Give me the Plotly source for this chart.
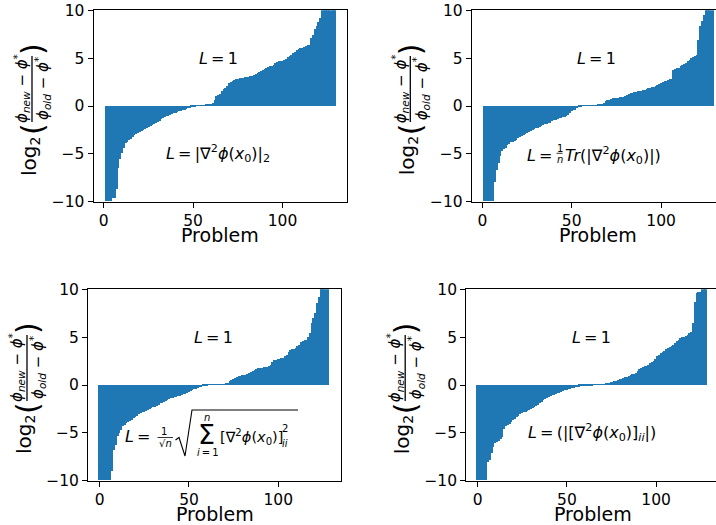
import plotly.graph_objects as go

W, H = 716, 525
BLUE = "#1f77b4"
FONT = "DejaVu Sans"

# ---------------- data (sorted log2 ratios per problem) ----------------
problems_top = list(range(1, 130))
problems_bottom = list(range(0, 129))

vals_norm2 = [
    -10.0, -10.0, -10.0, -10.0, -9.6, -9.6, -8.7, -6.5, -5.6, -4.9,
    -4.4, -3.9, -3.75, -3.55, -3.45, -3.3, -3.1, -3.0, -2.9, -2.75,
    -2.6, -2.5, -2.4, -2.33, -2.25, -2.16, -2.0, -1.88, -1.8, -1.7,
    -1.6, -1.4, -1.25, -1.15, -1.1, -1.05, -0.95, -0.87, -0.8, -0.72,
    -0.66, -0.6, -0.52, -0.47, -0.4, -0.33, -0.28, -0.22, -0.15, -0.1,
    -0.05, 0.03, 0.04, 0.05, 0.06, 0.07, 0.08, 0.09, 0.1, 0.12,
    0.3, 0.63, 0.98, 1.1, 1.22, 1.5, 1.7, 1.85, 2.09, 2.37,
    2.5, 2.61, 2.7, 2.75, 2.79, 2.85, 2.89, 2.92, 2.96, 3.0,
    3.05, 3.1, 3.14, 3.25, 3.34, 3.45, 3.52, 3.65, 3.76, 3.85,
    3.94, 4.0, 4.11, 4.2, 4.29, 4.45, 4.55, 4.63, 4.68, 4.72,
    4.74, 4.9, 5.05, 5.15, 5.3, 5.5, 5.65, 5.8, 5.92, 6.0,
    6.08, 6.13, 6.2, 6.3, 6.38, 7.07, 7.4, 8.0, 8.3, 8.7,
    9.16, 10.2, 10.5, 10.8, 11.2, 11.6, 12.1, 12.8, 13.5]

vals_trace = [
    -10.0, -10.0, -10.0, -10.0, -10.0, -10.0, -8.0, -6.76, -6.0, -5.3,
    -4.77, -4.5, -4.4, -4.1, -4.05, -3.8, -3.75, -3.73, -3.6, -3.4,
    -3.28, -3.15, -3.05, -2.95, -2.85, -2.75, -2.6, -2.52, -2.45, -2.35,
    -2.28, -2.2, -2.1, -2.0, -1.95, -1.88, -1.83, -1.8, -1.65, -1.5,
    -1.45, -1.4, -1.33, -1.29, -1.22, -1.15, -1.11, -0.95, -0.77, -0.6,
    -0.48, -0.4, -0.25, -0.12, -0.06, -0.02, 0.01, 0.02, 0.02, 0.03,
    0.03, 0.04, 0.05, 0.06, 0.08, 0.12, 0.17, 0.3, 0.45, 0.55,
    0.63, 0.7, 0.77, 0.8, 0.82, 0.84, 0.86, 0.87, 0.95, 1.05,
    1.15, 1.25, 1.3, 1.37, 1.4, 1.45, 1.5, 1.53, 1.58, 1.63,
    1.68, 1.75, 1.82, 1.87, 1.92, 1.97, 2.02, 2.12, 2.25, 2.37,
    2.45, 2.55, 2.61, 2.68, 2.75, 2.79, 3.76, 3.85, 3.9, 3.94,
    4.1, 4.29, 4.4, 4.5, 4.63, 4.8, 4.95, 5.09, 5.2, 5.33,
    6.9, 8.3, 8.9, 9.5, 10.3, 10.7, 11.2, 11.8, 12.5]

vals_rms_diag = [
    -10.0, -10.0, -10.0, -10.0, -10.0, -10.0, -10.0, -9.06, -6.8, -6.3,
    -5.4, -5.0, -4.7, -4.36, -4.2, -4.0, -3.9, -3.75, -3.66, -3.5,
    -3.35, -3.25, -3.1, -2.96, -2.9, -2.8, -2.7, -2.61, -2.5, -2.42,
    -2.37, -2.3, -2.22, -2.1, -1.95, -1.9, -1.8, -1.74, -1.6, -1.48,
    -1.39, -1.35, -1.32, -1.29, -1.2, -1.13, -1.08, -1.0, -0.94, -0.85,
    -0.77, -0.7, -0.6, -0.5, -0.45, -0.35, -0.28, -0.24, -0.18, -0.12,
    -0.08, -0.03, 0.01, 0.01, 0.02, 0.02, 0.03, 0.03, 0.04, 0.05,
    0.06, 0.08, 0.15, 0.35, 0.5, 0.59, 0.7, 0.8, 0.88, 0.94,
    0.97, 1.0, 1.05, 1.12, 1.2, 1.29, 1.45, 1.57, 1.63, 1.74,
    1.76, 1.78, 1.8, 1.81, 1.9, 2.0, 2.09, 2.35, 2.61, 2.63,
    2.66, 2.68, 2.75, 2.79, 2.95, 3.14, 3.4, 3.66, 3.72, 3.78,
    3.83, 4.0, 4.2, 4.43, 4.55, 4.65, 4.7, 5.0, 5.4, 6.45,
    7.0, 7.5, 8.5, 9.2, 10.2, 10.6, 11.0, 11.6, 12.3]

vals_abs_diag = [
    -10.0, -10.0, -10.0, -10.0, -10.0, -10.0, -8.1, -7.84, -7.1, -6.5,
    -6.1, -6.0, -5.92, -5.7, -5.5, -4.6, -4.36, -4.2, -4.08, -3.9,
    -3.73, -3.6, -3.4, -3.24, -3.1, -2.96, -2.88, -2.8, -2.7, -2.61,
    -2.52, -2.45, -2.35, -2.26, -2.1, -1.95, -1.8, -1.65, -1.5, -1.35,
    -1.25, -1.18, -1.1, -1.03, -0.96, -0.9, -0.82, -0.72, -0.63, -0.58,
    -0.52, -0.46, -0.4, -0.36, -0.32, -0.28, -0.24, -0.2, -0.17, -0.15,
    -0.12, -0.1, -0.08, -0.06, -0.04, -0.02, -0.01, 0.01, 0.02, 0.03,
    0.04, 0.06, 0.08, 0.12, 0.18, 0.24, 0.3, 0.38, 0.42, 0.5,
    0.57, 0.62, 0.7, 0.78, 0.85, 0.95, 1.05, 1.1, 1.15, 1.22,
    1.4, 1.6, 1.7, 1.8, 1.92, 2.0, 2.1, 2.25, 2.33, 2.5,
    2.7, 2.95, 3.14, 3.3, 3.45, 3.55, 3.7, 3.83, 3.95, 4.05,
    4.18, 4.35, 4.53, 4.7, 4.88, 4.95, 5.0, 5.05, 5.2, 5.4,
    5.5, 6.45, 8.6, 9.58, 9.65, 9.7, 10.2, 10.5, 11.0]

x_ticks = [0, 50, 100]
y_ticks = [-10, -5, 0, 5, 10]
label_one = "<i>L</i>\u2009=\u20091"
x_title = "Problem"

# ---------------- layout helpers ----------------
def px(x):
    return x / W

def py(y):
    return 1 - y / H

panels = [
    ("x", "y", problems_top, vals_norm2, (93.5, 346.8), (10.3, 201.7), [-5.7, 136.0], True),
    ("x2", "y2", problems_top, vals_trace, (471.8, 716), (10.3, 201.7), [-5.9, 130.7], False),
    ("x3", "y3", problems_bottom, vals_rms_diag, (88.0, 341.0), (289.3, 480.7), [-6.6, 135.2], True),
    ("x4", "y4", problems_bottom, vals_abs_diag, (466.2, 716), (289.3, 480.7), [-6.45, 133.6], False),
]

fig = go.Figure()
layout = dict(
    width=W, height=H, autosize=False,
    margin=dict(l=0, r=0, t=0, b=0, pad=0, autoexpand=False),
    paper_bgcolor="white", plot_bgcolor="white",
    showlegend=False, bargap=0,
    font=dict(family=FONT, color="black", size=15),
)

annotations = []
shapes = []

for xa, ya, xs, ys, xd, yd, xr, mir in panels:
    fig.add_trace(go.Bar(x=xs, y=ys, xaxis=xa, yaxis=ya,
                         marker=dict(color=BLUE, line=dict(width=0))))
    xkey = "xaxis" + xa[1:]
    ykey = "yaxis" + ya[1:]
    layout[xkey] = dict(
        domain=[px(xd[0]), min(1.0, px(xd[1]))], range=xr, anchor=ya,
        tickvals=x_ticks, ticks="outside", ticklen=5, tickwidth=1, tickcolor="black",
        showline=True, linecolor="black", linewidth=1, mirror=True,
        showgrid=False, zeroline=False, automargin=False,
        tickfont=dict(family=FONT, size=15.5, color="black"),
    )
    layout[ykey] = dict(
        domain=[py(yd[1]), py(yd[0])], range=[-10, 10], anchor=xa,
        tickvals=y_ticks, ticks="outside", ticklen=5, tickwidth=1, tickcolor="black",
        showline=True, linecolor="black", linewidth=1, mirror=mir,
        showgrid=False, zeroline=False, automargin=False,
        tickfont=dict(family=FONT, size=15.5, color="black"),
    )
    annotations.append(dict(x=64, y=5, xref=xa, yref=ya, text=label_one, showarrow=False,
                            font=dict(family=FONT, size=16, color="black"),
                            xanchor="center", yanchor="middle"))
    full_w = 253.3
    cx = xd[0] + full_w / 2
    ty = yd[1] + 33
    annotations.append(dict(x=px(cx), y=py(ty), xref="paper", yref="paper", text=x_title,
                            showarrow=False, font=dict(family=FONT, size=19, color="black"),
                            xanchor="center", yanchor="middle"))

# ---------------- y-axis titles (composed, rotated) ----------------
def ylabel(dx, dy):
    def A(x, y, text, size):
        annotations.append(dict(x=px(x + dx), y=py(y + dy), xref="paper", yref="paper",
                                text=text, showarrow=False, textangle=-90,
                                font=dict(family=FONT, size=size, color="black"),
                                xanchor="center", yanchor="middle"))
    A(30, 156, "log<sub>2</sub>", 20)
    A(32, 129, "(", 30)
    A(32, 49, ")", 30)
    A(21, 89, "<i>\u03d5</i><sub><i>new</i></sub> \u2212 <i>\u03d5</i><sup>*</sup>", 15)
    A(42, 89, "<i>\u03d5</i><sub><i>old</i></sub> \u2212 <i>\u03d5</i><sup>*</sup>", 15)
    shapes.append(dict(type="line", xref="paper", yref="paper",
                       x0=px(32 + dx), x1=px(32 + dx), y0=py(56 + dy), y1=py(122 + dy),
                       line=dict(color="black", width=1.3)))

ylabel(0, 0)
ylabel(378.3, 0)
ylabel(-5, 279)
ylabel(373.2, 279)

# ---------------- formulas ----------------
def F(xa, ya, text, size, dx=0, dy=0, xanchor="center"):
    annotations.append(dict(x=64, y=-5, xref=xa, yref=ya, text=text, showarrow=False,
                            xshift=dx, yshift=dy,
                            font=dict(family=FONT, size=size, color="black"),
                            xanchor=xanchor, yanchor="middle"))

HESS = "\u2207<sup>2</sup><i>\u03d5</i>(<i>x</i><sub>0</sub>)"

F("x", "y", "<i>L</i>\u2009=\u2009|" + HESS + "|<sub>2</sub>", 16)

F("x2", "y2", "<i>L</i>\u2009=", 16, dx=-41.6, dy=-1.2, xanchor="right")
F("x2", "y2", "1", 10, dx=-37.1, dy=5.5)
F("x2", "y2", "<i>n</i>", 10, dx=-37.1, dy=-5.5)
shapes.append(dict(type="line", xref="paper", yref="paper",
                   x0=px(556.5), x1=px(562.5), y0=py(153.3), y1=py(153.3),
                   line=dict(color="black", width=0.8)))
F("x2", "y2", "<i>Tr</i>(|" + HESS + "|)", 16, dx=-33.6, dy=-1.2, xanchor="left")

F("x3", "y3", "<i>L</i>\u2009=", 16, dx=-60.5, dy=-4.1, xanchor="right")
F("x3", "y3", "1", 10, dx=-49.6, dy=1.6)
F("x3", "y3", "\u221a<i>n</i>", 10, dx=-48.1, dy=-10.4)
shapes.append(dict(type="line", xref="paper", yref="paper",
                   x0=px(157.5), x1=px(173), y0=py(437.5), y1=py(437.5),
                   line=dict(color="black", width=0.8)))
rad = [(175.5, 440), (179, 437.5), (185, 456), (192, 410), (298, 410)]
path = "M " + " L ".join(f"{px(a):.5f},{py(b):.5f}" for a, b in rad)
shapes.append(dict(type="path", xref="paper", yref="paper", path=path,
                   line=dict(color="black", width=1.1)))
F("x3", "y3", "<i>n</i>", 10, dx=-7.1, dy=15.5)
F("x3", "y3", "\u03a3", 27, dx=-7.1, dy=-1.5)
F("x3", "y3", "<i>i</i>\u2009=\u20091", 10, dx=-5.6, dy=-19.5)
F("x3", "y3", "[" + HESS + "]", 14.5, dx=4.0, dy=-4.1, xanchor="left")
F("x3", "y3", "2", 10, dx=66.0, dy=4.0, xanchor="left")
F("x3", "y3", "<i>ii</i>", 10, dx=66.0, dy=-10.5, xanchor="left")

F("x4", "y4", "<i>L</i>\u2009=\u2009(|[" + HESS + "]<sub><i>ii</i></sub>|)", 16)

layout["annotations"] = annotations
layout["shapes"] = shapes
fig.update_layout(**layout)
fig.write_html(
    "out.html",
    config={"displayModeBar": False},
    post_script="document.body.style.margin='0';document.body.style.padding='0';"
                "document.body.style.overflow='hidden';",
)
